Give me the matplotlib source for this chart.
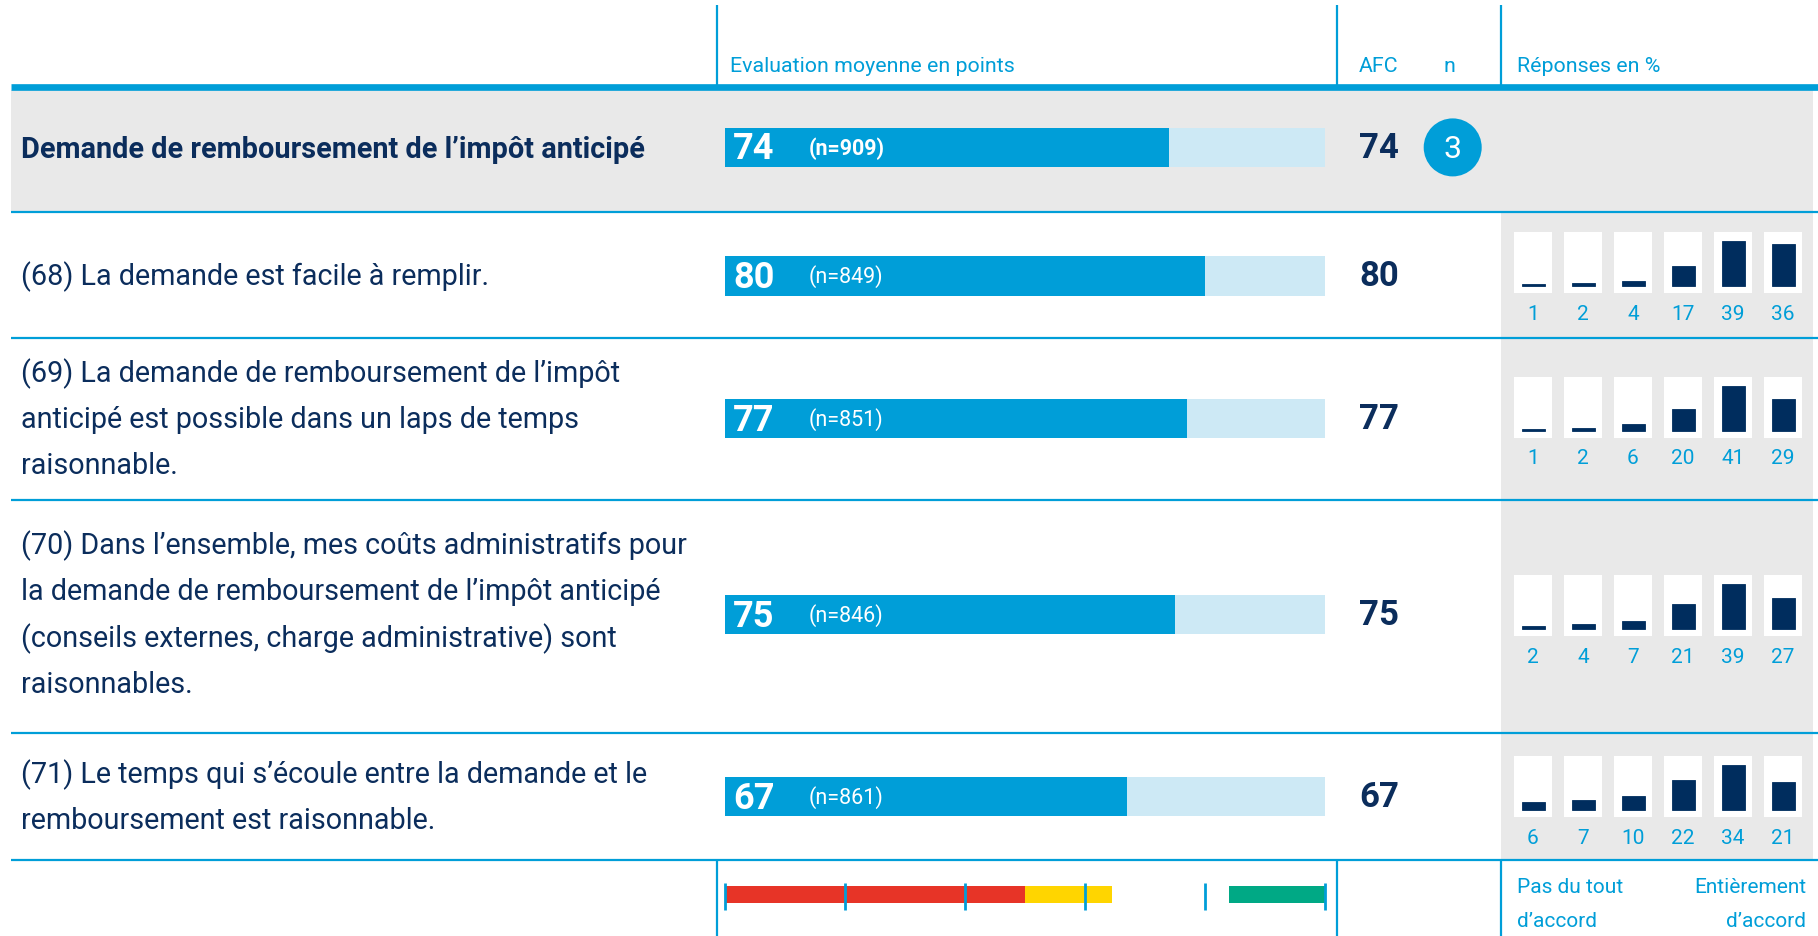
import matplotlib
matplotlib.use("Agg")
import matplotlib.pyplot as plt
from matplotlib.patches import Circle, Rectangle

plt.rcParams["font.family"] = ["Roboto", "DejaVu Sans"]

# ---- data -------------------------------------------------------------
title = "Demande de remboursement de l’impôt anticipé"
title_mean = 74
title_n = 909
title_afc = 74
title_count = 3

questions = [
    "(68) La demande est facile à remplir.",
    "(69) La demande de remboursement de l’impôt\nanticipé est possible dans un laps de temps\nraisonnable.",
    "(70) Dans l’ensemble, mes coûts administratifs pour\nla demande de remboursement de l’impôt anticipé\n(conseils externes, charge administrative) sont\nraisonnables.",
    "(71) Le temps qui s’écoule entre la demande et le\nremboursement est raisonnable.",
]
means = [80, 77, 75, 67]
n_resp = [849, 851, 846, 861]
afc = [80, 77, 75, 67]
distribution = [
    [1, 2, 4, 17, 39, 36],
    [1, 2, 6, 20, 41, 29],
    [2, 4, 7, 21, 39, 27],
    [6, 7, 10, 22, 34, 21],
]

# colour bands of the rating scale (start, end)
scale_bands = [(0, 50), (50, 64.5), (84, 100)]
scale_ticks = [0, 20, 40, 60, 80, 100]

# ---- style ------------------------------------------------------------
BLUE = "#009ed8"
LIGHT = "#cde9f5"
NAVY = "#0b2d5c"
BAR_NAVY = "#002d5e"
GRAY = "#e9e9e9"
BAND_COLORS = ["#e73427", "#ffd500", "#00a985"]

W, H = 1818, 937
fig = plt.figure(figsize=(W / 100, H / 100), dpi=100)
fig.patch.set_facecolor("white")

# layout axes in pixel units (y downwards)
ax = fig.add_axes([0, 0, 1, 1])
ax.set_xlim(0, W)
ax.set_ylim(H, 0)
ax.axis("off")

row_edges = [90.7, 213.3, 338.5, 500.9, 733.9, 861.4]
bar_y = [148.4, 277.0, 419.7, 615.6, 797.6]
box_top = [233.0, 378.0, 576.2, 757.1]
line_step = 46.4
bar_h = 39.4

col_eval, col_afc, col_resp = 716.5, 1336.7, 1501.4

# backgrounds
ax.add_patch(Rectangle((11, row_edges[0]), W - 16, row_edges[1] - row_edges[0],
                       color=GRAY, lw=0))
ax.add_patch(Rectangle((col_resp, row_edges[1]), W - 5 - col_resp,
                       row_edges[5] - row_edges[1], color=GRAY, lw=0))

# grid lines
ax.hlines(87.5, 11, W, color=BLUE, lw=4.8)
ax.hlines(row_edges[1:], 11, W, color=BLUE, lw=1.6)
ax.vlines([col_eval, col_afc, col_resp], 6, 86, color=BLUE, lw=1.6)
ax.vlines([col_eval, col_afc, col_resp], row_edges[5], H, color=BLUE, lw=1.6)

# header labels
hdr = dict(color=BLUE, fontsize=15.4, va="center")
ax.text(730, 67, "Evaluation moyenne en points", **hdr)
ax.text(1359, 67, "AFC", **hdr)
ax.text(1449, 67, "n", ha="center", **hdr)
ax.text(1517, 67, "Réponses en %", **hdr)

# summary row
ax.text(21, 150, title, color=NAVY, fontsize=20.8, fontweight="bold", va="center")
ax.text(1379, bar_y[0], str(title_afc), color=NAVY, fontsize=25,
        fontweight="bold", ha="center", va="center")
ax.add_patch(Circle((1452.7, bar_y[0]), 29, color=BLUE, lw=0))
ax.text(1452.7, bar_y[0] + 1, str(title_count), color="white", fontsize=23,
        ha="center", va="center")

# question rows
for i, q in enumerate(questions):
    lines = q.split("\n")
    y0 = bar_y[i + 1] - line_step * (len(lines) - 1) / 2
    for k, line in enumerate(lines):
        ax.text(21, y0 + k * line_step, line, color=NAVY, fontsize=20.7, va="center")
    ax.text(1379, bar_y[i + 1], str(afc[i]), color=NAVY, fontsize=25,
            fontweight="bold", ha="center", va="center")

# ---- mean score bars ----------------------------------------------------
axb = fig.add_axes([724.6 / W, 0, (1325.2 - 724.6) / W, 1])
axb.set_xlim(0, 100)
axb.set_ylim(H, 0)
axb.axis("off")

all_means = [title_mean] + means
all_n = [title_n] + n_resp
axb.barh(bar_y, [100] * len(bar_y), height=bar_h, color=LIGHT, lw=0)
axb.barh(bar_y, all_means, height=bar_h, color=BLUE, lw=0)
for i, (m, n) in enumerate(zip(all_means, all_n)):
    axb.text(1.4, bar_y[i] + 1, str(m), color="white", fontsize=26,
             fontweight="bold", va="center")
    axb.text(14.0, bar_y[i], f"(n={n})", color="white", fontsize=15.5,
             fontweight="bold" if i == 0 else "normal", va="center")

# rating scale legend
legend_y = 895.6
for (a, b), c in zip(scale_bands, BAND_COLORS):
    axb.barh(legend_y, b - a, left=a, height=17.4, color=c, lw=0)
axb.vlines(scale_ticks, 883.5, 911.3, color=BLUE, lw=2, clip_on=False)

# ---- answer distribution mini charts ---------------------------------------
box_h = 61.0
for i, vals in enumerate(distribution):
    top = max(vals)
    unit = top / 45.0  # tallest bar is 45 px high
    lo, hi = -7.5 * unit, (box_h - 7.5) * unit
    axd = fig.add_axes([1508 / W, 1 - (box_top[i] + box_h) / H, 300 / W, box_h / H])
    axd.set_xlim(-0.5, 5.5)
    axd.set_ylim(lo, hi)
    axd.axis("off")
    xs = range(len(vals))
    axd.bar(xs, [hi - lo] * len(vals), bottom=lo, width=0.76, color="white", lw=0)
    axd.bar(xs, vals, width=0.46, color=BAR_NAVY, edgecolor=BAR_NAVY, lw=0.6)
    for x, v in zip(xs, vals):
        axd.text(x, lo - 20 * unit, str(v), color=BLUE, fontsize=15,
                 ha="center", va="center")

# scale end labels
lab = dict(color=BLUE, fontsize=15, va="center")
ax.text(1517, 888, "Pas du tout", ha="left", **lab)
ax.text(1517, 921.7, "d’accord", ha="left", **lab)
ax.text(1806, 888, "Entièrement", ha="right", **lab)
ax.text(1806, 921.7, "d’accord", ha="right", **lab)

fig.savefig("out.png", dpi=100)
